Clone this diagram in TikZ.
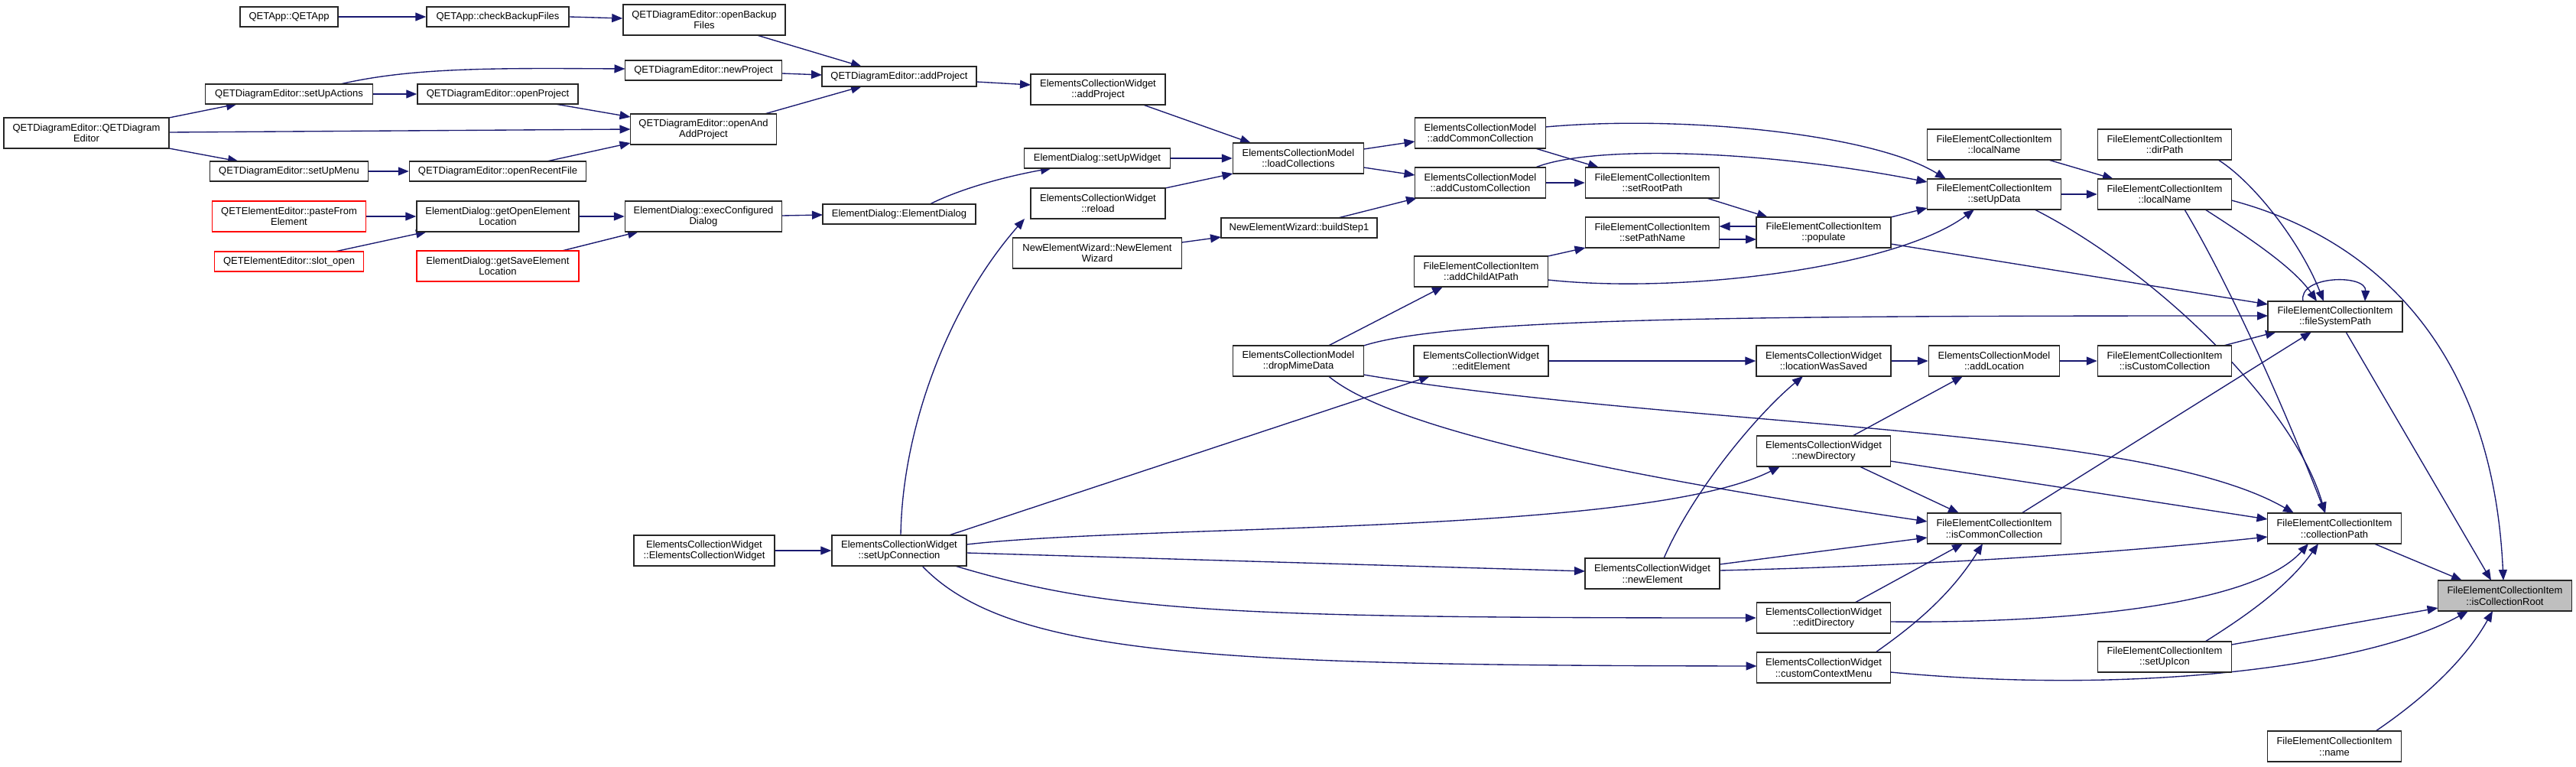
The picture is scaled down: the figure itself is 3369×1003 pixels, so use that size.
\documentclass[tikz,border=0pt]{standalone}
\usepackage{fontspec}
\setmainfont{Liberation Sans}
\usetikzlibrary{arrows.meta}
\definecolor{mblue}{RGB}{25,25,112}
\pgfdeclarelayer{bg}
\pgfsetlayers{bg,main}
\begin{document}
\begin{tikzpicture}[x=1pt,y=-1pt,
  box/.style={draw=black!85, line width=1.5pt, fill=white, inner sep=0pt, align=center,
    font=\fontsize{13}{14.7}\selectfont, minimum height=40pt},
  one/.style={minimum height=26pt},
  redbox/.style={box, draw=red},
  rootbox/.style={box, fill=black!25, draw=black!85},
  cg/.style={draw=mblue, line width=1.35pt, -{Triangle[length=14pt,width=11pt]}, fill=none}]
\useasboundingbox (0,0) rectangle (3369,1003);
% ---------- nodes ----------
\node[box,one,minimum width=128pt] (n1) at (378,22) {QETApp::QETApp};
\node[box,one,minimum width=186pt] (n2) at (651,22) {QETApp::checkBackupFiles};
\node[box,minimum width=212pt] (n3) at (921,26) {QETDiagramEditor::openBackup\\Files};
\node[box,one,minimum width=205pt] (n4) at (920,92) {QETDiagramEditor::newProject};
\node[box,one,minimum width=202pt] (n5) at (1176,100) {QETDiagramEditor::addProject};
\node[box,one,minimum width=219pt] (n6) at (378,123) {QETDiagramEditor::setUpActions};
\node[box,one,minimum width=210pt] (n7) at (651,123) {QETDiagramEditor::openProject};
\node[box,minimum width=216pt] (n8) at (113,174) {QETDiagramEditor::QETDiagram\\Editor};
\node[box,minimum width=191pt] (n9) at (920,169) {QETDiagramEditor::openAnd\\AddProject};
\node[box,one,minimum width=207pt] (n10) at (378,224) {QETDiagramEditor::setUpMenu};
\node[box,one,minimum width=231pt] (n11) at (651,224) {QETDiagramEditor::openRecentFile};
\node[box,minimum width=176pt] (n12) at (1436,117) {ElementsCollectionWidget\\::addProject};
\node[box,one,minimum width=191pt] (n13) at (1435,207) {ElementDialog::setUpWidget};
\node[box,minimum width=176pt] (n14) at (1436,266) {ElementsCollectionWidget\\::reload};
\node[box,minimum width=171pt] (n15) at (1698,207) {ElementsCollectionModel\\::loadCollections};
\node[redbox,minimum width=201pt] (n16) at (378,283) {QETElementEditor::pasteFrom\\Element};
\node[box,minimum width=212pt] (n17) at (651,283) {ElementDialog::getOpenElement\\Location};
\node[redbox,one,minimum width=195pt] (n18) at (378,342) {QETElementEditor::slot\_open};
\node[redbox,minimum width=212pt] (n19) at (651,348) {ElementDialog::getSaveElement\\Location};
\node[box,minimum width=205pt] (n20) at (920,283) {ElementDialog::execConfigured\\Dialog};
\node[box,one,minimum width=200pt] (n21) at (1176,280) {ElementDialog::ElementDialog};
\node[box,minimum width=221pt] (n22) at (1435,331) {NewElementWizard::NewElement\\Wizard};
\node[box,one,minimum width=204pt] (n23) at (1699,298) {NewElementWizard::buildStep1};
\node[box,minimum width=171pt] (n24) at (1936,174) {ElementsCollectionModel\\::addCommonCollection};
\node[box,minimum width=171pt] (n25) at (1936,239) {ElementsCollectionModel\\::addCustomCollection};
\node[box,minimum width=175pt] (n26) at (2161,239) {FileElementCollectionItem\\::setRootPath};
\node[box,minimum width=175pt] (n27) at (2161,304) {FileElementCollectionItem\\::setPathName};
\node[box,minimum width=176pt] (n28) at (2385,304) {FileElementCollectionItem\\::populate};
\node[box,minimum width=175pt] (n29) at (1937,355) {FileElementCollectionItem\\::addChildAtPath};
\node[box,minimum width=171pt] (n30) at (1698,472) {ElementsCollectionModel\\::dropMimeData};
\node[box,minimum width=176pt] (n31) at (1937,472) {ElementsCollectionWidget\\::editElement};
\node[box,minimum width=176pt] (n32) at (2385,472) {ElementsCollectionWidget\\::locationWasSaved};
\node[box,minimum width=171pt] (n33) at (2608,472) {ElementsCollectionModel\\::addLocation};
\node[box,minimum width=175pt] (n34) at (2831,472) {FileElementCollectionItem\\::isCustomCollection};
\node[box,minimum width=175pt] (n35) at (2608,189) {FileElementCollectionItem\\::localName};
\node[box,minimum width=175pt] (n36) at (2831,189) {FileElementCollectionItem\\::dirPath};
\node[box,minimum width=175pt] (n37) at (2608,254) {FileElementCollectionItem\\::setUpData};
\node[box,minimum width=175pt] (n38) at (2831,254) {FileElementCollectionItem\\::localName};
\node[box,minimum width=176pt] (n39) at (3054,414) {FileElementCollectionItem\\::fileSystemPath};
\node[box,minimum width=184pt] (n40) at (921,720) {ElementsCollectionWidget\\::ElementsCollectionWidget};
\node[box,minimum width=176pt] (n41) at (1176,720) {ElementsCollectionWidget\\::setUpConnection};
\node[box,minimum width=175pt] (n42) at (2385,590) {ElementsCollectionWidget\\::newDirectory};
\node[box,minimum width=175pt] (n43) at (2608,691) {FileElementCollectionItem\\::isCommonCollection};
\node[box,minimum width=176pt] (n44) at (2161,750) {ElementsCollectionWidget\\::newElement};
\node[box,minimum width=175pt] (n45) at (2385,808) {ElementsCollectionWidget\\::editDirectory};
\node[box,minimum width=175pt] (n46) at (2385,873) {ElementsCollectionWidget\\::customContextMenu};
\node[box,minimum width=175pt] (n47) at (3053,691) {FileElementCollectionItem\\::collectionPath};
\node[rootbox,minimum width=175pt] (n48) at (3276,779) {FileElementCollectionItem\\::isCollectionRoot};
\node[box,minimum width=175pt] (n49) at (2831,859) {FileElementCollectionItem\\::setUpIcon};
\node[box,minimum width=175pt] (n50) at (3053,976) {FileElementCollectionItem\\::name};
% ---------- edges ----------
\begin{pgfonlayer}{bg}
\fill[white] (0,0) rectangle (3369,1003);
\draw[cg] (n1) -- (n2);
\draw[cg] (n2.east) -- ([shift={(0,-2)}]n3.west);
\draw[cg] ([shift={(69,20)}]n3.center) -- ([shift={(-49,-13)}]n5.center);
\draw[cg] ([shift={(102.5,4)}]n4.center) -- ([shift={(-101,-2)}]n5.center);
\draw[cg] ([shift={(80,-20)}]n9.center) -- ([shift={(-49,13)}]n5.center);
\draw[cg] ([shift={(67,-13)}]n6.center) .. controls (540,88) and (650,89) .. ([shift={(-102.5,-2)}]n4.center);
\draw[cg] (n6) -- (n7);
\draw[cg] ([shift={(75,13)}]n7.center) -- ([shift={(-95.5,-16)}]n9.center);
\draw[cg] ([shift={(108,-20)}]n8.center) -- ([shift={(-68,13)}]n6.center);
\draw[cg] ([shift={(108,-1)}]n8.center) -- ([shift={(-95.5,0)}]n9.center);
\draw[cg] ([shift={(108,20)}]n8.center) -- ([shift={(-66,-13)}]n10.center);
\draw[cg] (n10) -- (n11);
\draw[cg] ([shift={(64,-13)}]n11.center) -- ([shift={(-95.5,18)}]n9.center);
\draw[cg] ([shift={(101,7)}]n5.center) -- ([shift={(-88,-6)}]n12.center);
\draw[cg] ([shift={(59,20)}]n12.center) -- ([shift={(-62,-20)}]n15.center);
\draw[cg] (n13) -- (n15);
\draw[cg] ([shift={(88,-20)}]n14.center) -- ([shift={(-85.5,20)}]n15.center);
\draw[cg] ([shift={(40,-13)}]n21.center) .. controls (1260,245) and (1320,230) .. ([shift={(-60,13)}]n13.center);
\draw[cg] ([shift={(102.5,-1)}]n20.center) -- ([shift={(-100,1)}]n21.center);
\draw[cg] (n17) -- (n20);
\draw[cg] ([shift={(84,-20)}]n19.center) -- ([shift={(-85,20)}]n20.center);
\draw[cg] (n16) -- (n17);
\draw[cg] ([shift={(60,-13)}]n18.center) -- ([shift={(-93,20)}]n17.center);
\draw[cg] ([shift={(110.5,-14)}]n22.center) -- ([shift={(-102,12)}]n23.center);
\draw[cg] ([shift={(51,-13)}]n23.center) -- ([shift={(-83,20)}]n25.center);
\draw[cg] ([shift={(85.5,-12)}]n15.center) -- ([shift={(-85.5,11)}]n24.center);
\draw[cg] ([shift={(85.5,12)}]n15.center) -- ([shift={(-85.5,-10)}]n25.center);
\draw[cg] ([shift={(72,20)}]n24.center) -- ([shift={(-70,-20)}]n26.center);
\draw[cg] (n25) -- (n26);
\draw[cg] ([shift={(85.5,-8)}]n24.center) .. controls (2200,150) and (2450,175) .. ([shift={(-63,-20)}]n37.center);
\draw[cg] ([shift={(72,-20)}]n25.center) .. controls (2080,190) and (2300,195) .. ([shift={(-87.5,-16)}]n37.center);
\draw[cg] ([shift={(71,20)}]n26.center) -- ([shift={(-73,-20)}]n28.center);
\draw[cg] ([shift={(-88,-8)}]n28.center) -- ([shift={(87.5,-8)}]n27.center);
\draw[cg] ([shift={(87.5,9)}]n27.center) -- ([shift={(-88,9)}]n28.center);
\draw[cg] ([shift={(87.5,-20)}]n29.center) -- ([shift={(-87.5,20)}]n27.center);
\draw[cg] ([shift={(88,-20)}]n28.center) -- ([shift={(-87.5,18)}]n37.center);
\draw[cg] ([shift={(87.5,11)}]n29.center) .. controls (2200,385) and (2480,350) .. ([shift={(-26,20)}]n37.center);
\draw[cg] ([shift={(88,15)}]n28.center) -- ([shift={(-88,-16)}]n39.center);
\draw[cg] (n37) -- (n38);
\draw[cg] ([shift={(71,20)}]n35.center) -- ([shift={(-67,-20)}]n38.center);
\draw[cg] ([shift={(53,20)}]n37.center) .. controls (2820,355) and (3000,530) .. ([shift={(-12,-20)}]n47.center);
\draw[cg] ([shift={(26,20)}]n38.center) .. controls (2920,380) and (2990,540) .. ([shift={(-12,-20)}]n47.center);
\draw[cg] ([shift={(53,20)}]n38.center) .. controls (2940,310) and (3000,350) .. ([shift={(-24,-20)}]n39.center);
\draw[cg] ([shift={(70,20)}]n36.center) .. controls (2950,240) and (3010,320) .. ([shift={(-15,-20)}]n39.center);
\draw[cg] ([shift={(-42,-20)}]n39.center) .. controls (3005,360) and (3095,358) .. ([shift={(39,-20)}]n39.center);
\draw[cg] ([shift={(87.5,8)}]n38.center) .. controls (3100,310) and (3260,450) .. ([shift={(-2,-20)}]n48.center);
\draw[cg] ([shift={(14,20)}]n39.center) -- ([shift={(-18,-20)}]n48.center);
\draw[cg] ([shift={(52,20)}]n47.center) -- ([shift={(-56,-20)}]n48.center);
\draw[cg] ([shift={(87.5,-16)}]n49.center) -- ([shift={(-87.5,16)}]n48.center);
\draw[cg] ([shift={(87.5,6)}]n46.center) .. controls (2800,910) and (3100,870) .. ([shift={(-48,20)}]n48.center);
\draw[cg] ([shift={(54,-20)}]n50.center) .. controls (3160,920) and (3220,870) .. ([shift={(-16,20)}]n48.center);
\draw[cg] ([shift={(87.5,13)}]n42.center) -- ([shift={(-87.5,-12)}]n47.center);
\draw[cg] ([shift={(88,-4)}]n44.center) .. controls (2500,740) and (2750,725) .. ([shift={(-87.5,11)}]n47.center);
\draw[cg] ([shift={(36,-20)}]n43.center) -- ([shift={(-31,20)}]n39.center);
\draw[cg] ([shift={(77,-20)}]n34.center) -- ([shift={(-77,20)}]n39.center);
\draw[cg] ([shift={(85.5,-20)}]n30.center) .. controls (1900,415) and (2300,413) .. ([shift={(-88,-1)}]n39.center);
\draw[cg] ([shift={(39.5,-20)}]n30.center) -- ([shift={(-50,20)}]n29.center);
\draw[cg] ([shift={(39.5,20)}]n30.center) .. controls (1820,560) and (2100,620) .. ([shift={(-87.5,-9)}]n43.center);
\draw[cg] ([shift={(85.5,18)}]n30.center) .. controls (2200,560) and (2800,555) .. ([shift={(-53,-20)}]n47.center);
\draw[cg] ([shift={(2,-20)}]n41.center) .. controls (1180,560) and (1240,400) .. ([shift={(-96,20)}]n14.center);
\draw[cg] ([shift={(65,-20)}]n41.center) -- ([shift={(-67,20)}]n31.center);
\draw[cg] ([shift={(88,-8)}]n41.center) .. controls (1500,685) and (2150,700) .. ([shift={(-57,20)}]n42.center);
\draw[cg] ([shift={(88,3)}]n41.center) -- ([shift={(-88,-3)}]n44.center);
\draw[cg] ([shift={(73,20)}]n41.center) .. controls (1450,800) and (1600,808) .. (n45.west);
\draw[cg] ([shift={(30,20)}]n41.center) .. controls (1320,860) and (1600,870) .. ([shift={(-87.5,-2)}]n46.center);
\draw[cg] (n40) -- (n41);
\draw[cg] (n31) -- (n32);
\draw[cg] (n32) -- (n33);
\draw[cg] (n33) -- (n34);
\draw[cg] ([shift={(15,-20)}]n44.center) .. controls (2215,640) and (2300,540) .. ([shift={(-27,20)}]n32.center);
\draw[cg] ([shift={(38,-20)}]n42.center) -- ([shift={(-41,20)}]n33.center);
\draw[cg] ([shift={(47,20)}]n42.center) -- ([shift={(-46,-20)}]n43.center);
\draw[cg] ([shift={(88,-12)}]n44.center) -- ([shift={(-87.5,12)}]n43.center);
\draw[cg] ([shift={(41,-20)}]n45.center) -- ([shift={(-41,20)}]n43.center);
\draw[cg] ([shift={(68,-20)}]n46.center) .. controls (2500,820) and (2550,780) .. ([shift={(-15,20)}]n43.center);
\draw[cg] ([shift={(87.5,5)}]n45.center) .. controls (2650,815) and (2940,800) .. ([shift={(-34,20)}]n47.center);
\draw[cg] ([shift={(53,-20)}]n49.center) .. controls (2930,810) and (2990,770) .. ([shift={(-21,20)}]n47.center);
\end{pgfonlayer}
\end{tikzpicture}
\end{document}
